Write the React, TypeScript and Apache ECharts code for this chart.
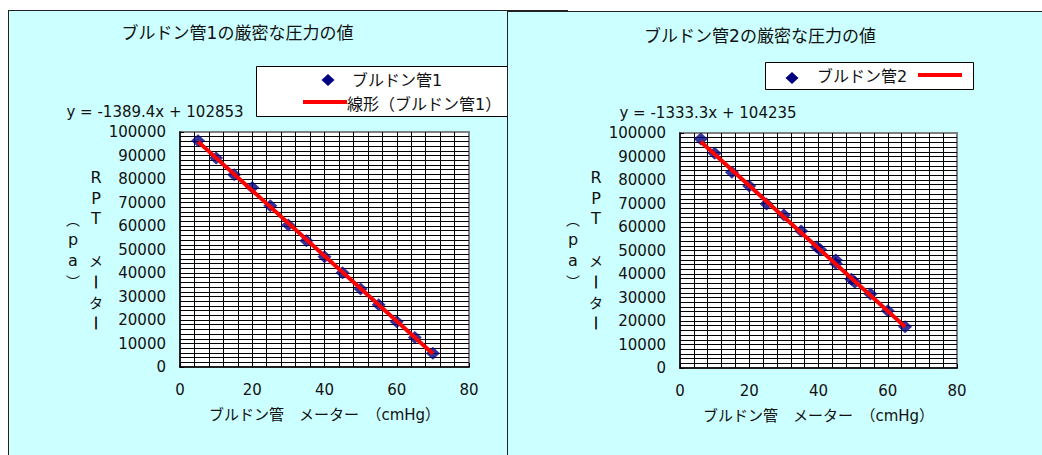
import React, { useEffect, useRef } from "react";
import * as echarts from "echarts";

// ---------- data ----------
const TITLE_1 = "ブルドン管1の厳密な圧力の値";
const TITLE_2 = "ブルドン管2の厳密な圧力の値";
const SERIES_1 = "ブルドン管1";
const SERIES_2 = "ブルドン管2";
const TREND_1 = "線形（ブルドン管1）";
const TREND_2 = "線形（ブルドン管2）";
const X_NAME = "ブルドン管　メーター　（cmHg）";
// vertical axis title "RPT　メーター（pa）", written top-to-bottom in two columns
const Y_NAME_MAIN = ["R", "P", "T", "　", "メ", "︱", "タ", "︱"];
const Y_NAME_UNIT = ["︵", "p", "a", "︶"];

const X_MIN = 0;
const X_MAX = 80;
const X_STEP = 20;
const Y_MIN = 0;
const Y_MAX = 100000;
const Y_STEP = 10000;

const tube1X = [5, 10, 15, 20, 25, 30, 35, 40, 45, 50, 55, 60, 65, 70];
const tube1Y = [96300, 88900, 81800, 76400, 68600, 60400, 53700, 46900, 40100, 33200, 26500, 19300, 12600, 5900];

const tube2X = [6, 10, 15, 20, 25, 30, 35, 39.5, 40.5, 45, 45, 49.5, 50.5, 55, 60, 65];
const tube2Y = [97400, 91400, 83300, 77400, 69800, 65100, 58300, 51500, 50300, 46000, 44500, 37800, 36500, 31500, 24400, 17600];

const trend1Slope = -1389.4;
const trend1Intercept = 102853;
const trend1X = [5, 70];

const trend2Slope = -1333.3;
const trend2Intercept = 104235;
const trend2X = [6, 65];

// ---------- styling ----------
const FONT = "'DejaVu Sans', 'Noto Sans CJK JP', sans-serif";
const CJK_FONT = "'Noto Sans CJK JP', 'DejaVu Sans', sans-serif";
const BG = "#CCFFFF";
const Y_NAME_STEP = 20.7;

type Cfg = {
  grid: { left: number; top: number; width: number; height: number };
  title: string;
  titlePos: [number, number];
  eqPos: [number, number];
  slope: number;
  intercept: number;
  xs: number[];
  ys: number[];
  trendX: number[];
  seriesName: string;
  trendName: string;
  yNameX: [number, number];
  yNameCY: number;
  legend: any[];
};

function eqText(slope: number, intercept: number) {
  return `y = ${slope}x + ${intercept}`;
}

function diamond(cx: number, cy: number, w: number, h: number, z = 10) {
  return {
    type: "polygon",
    z,
    shape: {
      points: [
        [cx, cy - h / 2],
        [cx + w / 2, cy],
        [cx, cy + h / 2],
        [cx - w / 2, cy],
      ],
    },
    style: { fill: "#000080" },
  };
}

function verticalColumn(chars: string[], x: number, cy: number) {
  const n = chars.length;
  return chars
    .map((ch, i) => ({ ch, i }))
    .filter(({ ch }) => ch.trim() !== "")
    .map(({ ch, i }) => {
      const latin = /^[A-Za-z]$/.test(ch);
      const bar = ch === "︱";
      const style: any = {
        text: ch,
        fontSize: latin ? 16 : 14,
        fontFamily: latin ? FONT : CJK_FONT,
        fill: "#111",
        align: "center",
        verticalAlign: "middle",
      };
      if (bar) {
        style.stroke = "#111";
        style.lineWidth = 1;
      }
      return {
        type: "text",
        x,
        y: cy + (i - (n - 1) / 2) * Y_NAME_STEP,
        style,
      };
    });
}

function makeOption(c: Cfg) {
  const axisCommon = {
    type: "value",
    axisLine: { show: true, onZero: false, lineStyle: { color: "#000", width: 1.5 } },
    axisTick: { show: true, inside: true, length: 4, lineStyle: { color: "#000" } },
    splitLine: { show: true, showMinLine: false, showMaxLine: false, lineStyle: { color: "#000", width: 1 } },
    minorTick: { show: false, splitNumber: 5 },
    minorSplitLine: { show: true, lineStyle: { color: "#000", width: 1 } },
  };
  return {
    animation: false,
    textStyle: { fontFamily: FONT },
    grid: {
      ...c.grid,
      show: true,
      backgroundColor: "#ffffff",
      borderColor: "#808080",
      borderWidth: 2,
    },
    xAxis: {
      ...axisCommon,
      min: X_MIN,
      max: X_MAX,
      interval: X_STEP,
      name: X_NAME,
      nameLocation: "middle",
      nameGap: 40,
      nameTextStyle: { fontSize: 15, color: "#111", fontFamily: FONT },
      axisLabel: { fontSize: 15, color: "#111", margin: 15, fontFamily: FONT, formatter: (v: number) => String(v) },
    },
    yAxis: {
      ...axisCommon,
      min: Y_MIN,
      max: Y_MAX,
      interval: Y_STEP,
      axisLabel: { fontSize: 15, color: "#111", margin: 14, fontFamily: FONT, formatter: (v: number) => String(v) },
    },
    series: [
      {
        type: "scatter",
        name: c.seriesName,
        data: c.xs.map((x, i) => [x, c.ys[i]]),
        symbol: "diamond",
        symbolSize: [14, 13],
        itemStyle: { color: "#000080" },
        z: 2,
      },
      {
        type: "line",
        name: c.trendName,
        data: c.trendX.map((x) => [x, c.slope * x + c.intercept]),
        symbol: "none",
        showSymbol: false,
        lineStyle: { color: "#ff0000", width: 4 },
        z: 3,
      },
    ],
    graphic: [
      {
        type: "text",
        x: c.titlePos[0],
        y: c.titlePos[1],
        style: {
          text: c.title,
          fontSize: 17,
          fontFamily: FONT,
          fill: "#111",
          align: "center",
          verticalAlign: "middle",
        },
      },
      {
        type: "text",
        x: c.eqPos[0],
        y: c.eqPos[1],
        style: {
          text: eqText(c.slope, c.intercept),
          fontSize: 15,
          fontFamily: FONT,
          fill: "#111",
          align: "center",
          verticalAlign: "middle",
        },
      },
      ...verticalColumn(Y_NAME_MAIN, c.yNameX[0], c.yNameCY),
      ...verticalColumn(Y_NAME_UNIT, c.yNameX[1], c.yNameCY),
      ...c.legend,
    ],
  };
}

const legend1 = [
  {
    type: "rect",
    z: 5,
    shape: { x: 247.5, y: 55.5, width: 330, height: 50 },
    style: { fill: "#fff", stroke: "#000", lineWidth: 1 },
  },
  diamond(319, 69, 13, 12),
  {
    type: "text",
    z: 10,
    x: 343,
    y: 69,
    style: { text: SERIES_1, fontSize: 16, fontFamily: FONT, fill: "#111", align: "left", verticalAlign: "middle" },
  },
  {
    type: "line",
    z: 10,
    shape: { x1: 294, y1: 91, x2: 338, y2: 91 },
    style: { stroke: "#ff0000", lineWidth: 4 },
  },
  {
    type: "text",
    z: 10,
    x: 338,
    y: 93,
    style: { text: TREND_1, fontSize: 16, fontFamily: FONT, fill: "#111", align: "left", verticalAlign: "middle" },
  },
];

const legend2 = [
  {
    type: "rect",
    z: 5,
    shape: { x: 257.5, y: 50.5, width: 208, height: 27 },
    style: { fill: "#fff", stroke: "#000", lineWidth: 1 },
  },
  diamond(284, 66, 13, 12),
  {
    type: "text",
    z: 10,
    x: 309,
    y: 64,
    style: { text: SERIES_2, fontSize: 16, fontFamily: FONT, fill: "#111", align: "left", verticalAlign: "middle" },
  },
  {
    type: "line",
    z: 10,
    shape: { x1: 410, y1: 63, x2: 454, y2: 63 },
    style: { stroke: "#ff0000", lineWidth: 4 },
  },
];

const cfg1: Cfg = {
  grid: { left: 171, top: 121, width: 289, height: 235 },
  title: TITLE_1,
  titlePos: [228.5, 22],
  eqPos: [146, 101],
  slope: trend1Slope,
  intercept: trend1Intercept,
  xs: tube1X,
  ys: tube1Y,
  trendX: trend1X,
  seriesName: SERIES_1,
  trendName: TREND_1,
  yNameX: [87, 64],
  yNameCY: 239,
  legend: legend1,
};

const cfg2: Cfg = {
  grid: { left: 172, top: 121, width: 277, height: 235 },
  title: TITLE_2,
  titlePos: [252, 24],
  eqPos: [200, 101],
  slope: trend2Slope,
  intercept: trend2Intercept,
  xs: tube2X,
  ys: tube2Y,
  trendX: trend2X,
  seriesName: SERIES_2,
  trendName: TREND_2,
  yNameX: [88, 65],
  yNameCY: 238,
  legend: legend2,
};

function Chart({ cfg }: { cfg: Cfg }) {
  const ref = useRef<HTMLDivElement>(null);
  useEffect(() => {
    if (!ref.current) return;
    const chart = echarts.init(ref.current, undefined, { renderer: "svg" });
    chart.setOption(makeOption(cfg) as any);
    return () => chart.dispose();
  }, [cfg]);
  return <div ref={ref} style={{ width: 560, height: 460 }} />;
}

export default function App() {
  return (
    <div
      style={{
        position: "fixed",
        left: 0,
        top: 0,
        width: 1042,
        height: 455,
        overflow: "hidden",
        background: "#fff",
      }}
    >
      <div
        style={{
          position: "absolute",
          left: 8,
          top: 10,
          width: 558,
          height: 460,
          border: "1px solid #222",
          background: BG,
          overflow: "hidden",
        }}
      >
        <Chart cfg={cfg1} />
      </div>
      <div
        style={{
          position: "absolute",
          left: 507,
          top: 11,
          width: 560,
          height: 460,
          border: "1px solid #222",
          background: BG,
          overflow: "hidden",
        }}
      >
        <Chart cfg={cfg2} />
      </div>
    </div>
  );
}
